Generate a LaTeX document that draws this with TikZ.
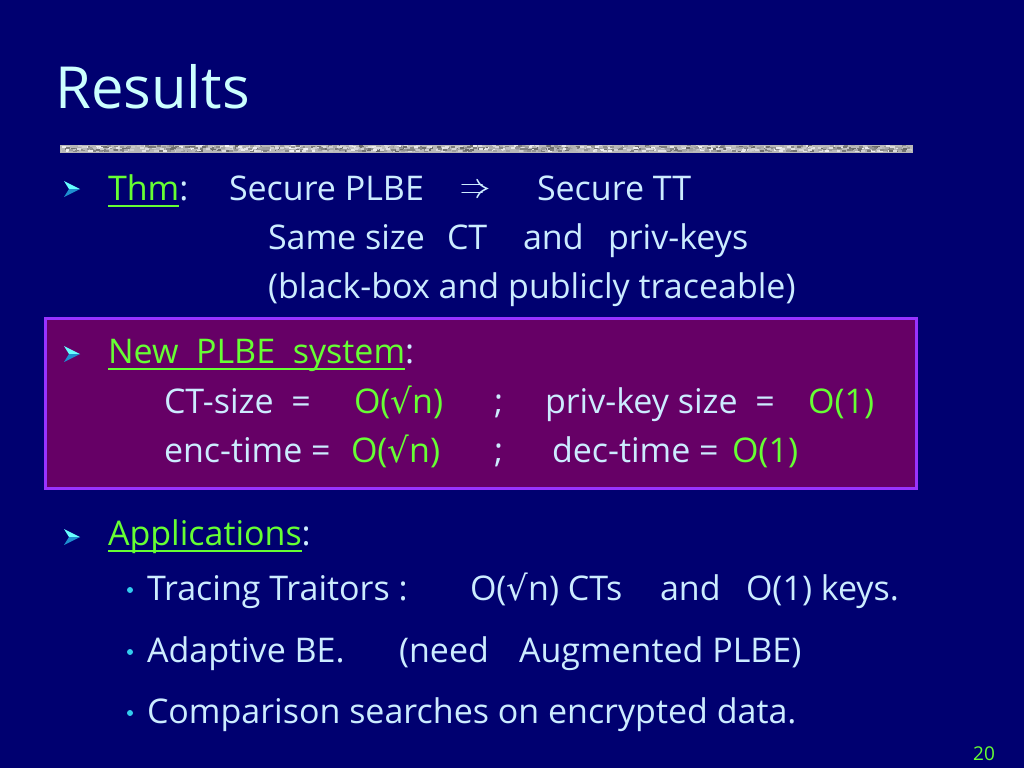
\documentclass[tikz,border=0pt]{standalone}
\usepackage{fontspec}
\setmainfont{Open Sans}
\newfontfamily\symf{DejaVu Sans}
\usetikzlibrary{calc}
\definecolor{bg}{HTML}{000070}
\definecolor{lt}{HTML}{CCECFF}
\definecolor{ttl}{HTML}{CCFFFF}
\definecolor{gr}{HTML}{66FF33}
\definecolor{boxfill}{HTML}{660066}
\definecolor{boxline}{HTML}{9933FF}
\definecolor{arrlight}{HTML}{66FFFF}
\definecolor{arrdark}{HTML}{1E8FD0}
\definecolor{dotc}{HTML}{33CCEE}
\newcommand\bodyf{\fontsize{34}{40}\selectfont}
\newcommand\rt{{\symf √}}
\begin{document}
\begin{tikzpicture}[x=1pt,y=-1pt,
  txt/.style={anchor=base west, inner sep=0pt, outer sep=0pt, text=lt, font=\bodyf},
  grn/.style={txt, text=gr},
  uline/.style={gr, line width=2pt},
  barrow/.pic={
    \fill[arrlight] (0,-8) -- (16,0) -- (5,0) -- cycle;
    \fill[arrdark] (5,0) -- (16,0) -- (0,8) -- cycle;
  },
  implies/.style={lt, line width=1.5pt, line cap=round},
  bdot/.style={circle, fill=dotc, inner sep=0pt, minimum size=6pt}]
% background
\fill[bg] (0,0) rectangle (1024,768);
\useasboundingbox (0,0) rectangle (1024,768);
% title
\node[anchor=base west, inner sep=0pt, text=ttl, font=\fontsize{58}{64}\selectfont] (title) at (55,108) {Results};
% textured bar
\fill[black!28!white] (60,145) rectangle (913,152.5);
\pgfmathsetseed{11}
\foreach \i in {1,...,1100}{
  \pgfmathsetmacro\xx{60+849*rnd}
  \pgfmathsetmacro\yy{145+5.5*rnd}
  \pgfmathsetmacro\gv{5+55*rnd}
  \fill[black!\gv!white] (\xx,\yy) rectangle ++(4,2);
}
% purple box
\draw[boxline, line width=3pt, fill=boxfill] (45,318) rectangle (916,488);
% bullets
\pic at (64,189) {barrow};
\pic at (64,354) {barrow};
\pic at (64,537) {barrow};
% line 1
\node[grn] (thm) at (108,200) {Thm};
\draw[uline] ($(thm.base west)+(0,6)$) -- ($(thm.base east)+(0,6)$);
\node[txt] (c1) at (thm.base east) {:};
\node[txt] (sp) at (229,200) {Secure PLBE};
% implication arrow
\draw[implies] (462,184.5) -- (482,184.5);
\draw[implies] (462,192.5) -- (482,192.5);
\draw[implies] (477,179.5) .. controls (480,185) .. (487,188.5) .. controls (480,192) .. (477,197.5);
\node[txt] (stt) at (537,200) {Secure TT};
% line 2
\node[txt] (same) at (268,249) {Same size};
\node[txt] (ct) at (447,249) {CT};
\node[txt] (and1) at (523,249) {and};
\node[txt] (pk) at (608,249) {priv-keys};
% line 3
\node[txt] (bb) at (268,298) {(black-box and publicly traceable)};
% line 4
\node[grn] (nps) at (108,363) {New\ \ PLBE\ \ system};
\draw[uline] ($(nps.base west)+(0,6)$) -- ($(nps.base east)+(0,6)$);
\node[txt] (c2) at (nps.base east) {:};
% line 5
\node[txt] (cts) at (164,413) {CT-size\ \ =};
\node[grn] (o1) at (354,413) {O(\rt n)};
\node[txt] (s1) at (494,413) {;};
\node[txt] (pks) at (545,413) {priv-key size\ \ =};
\node[grn] (o2) at (808,413) {O(1)};
% line 6
\node[txt] (enc) at (164,462) {enc-time =};
\node[grn] (o3) at (351,462) {O(\rt n)};
\node[txt] (s2) at (494,462) {;};
\node[txt] (dec) at (552,462) {dec-time =};
\node[grn] (o4) at (732,462) {O(1)};
% line 7
\node[grn] (app) at (108,545) {Applications};
\draw[uline] ($(app.base west)+(0,6)$) -- ($(app.base east)+(0,6)$);
\node[txt] (c3) at (app.base east) {:};
% sub bullets
\node[bdot] (d1) at (130,590) {};
\node[bdot] (d2) at (130,652) {};
\node[bdot] (d3) at (130,713) {};
\node[txt] (tt) at (147,600) {Tracing Traitors :};
\node[txt] (ocs) at (470,600) {O(\rt n) CTs};
\node[txt] (and2) at (660,600) {and};
\node[txt] (ok) at (746,600) {O(1) keys.};
\node[txt] (abe) at (147,662) {Adaptive BE.};
\node[txt] (need) at (399,662) {(need};
\node[txt] (aug) at (519,662) {Augmented PLBE)};
\node[txt] (cmp) at (147,723) {Comparison searches on encrypted data.};
% page number
\node[anchor=base west, inner sep=0pt, text=gr, font=\fontsize{19}{22}\selectfont] (pg) at (973,760) {20};
\end{tikzpicture}
\end{document}
